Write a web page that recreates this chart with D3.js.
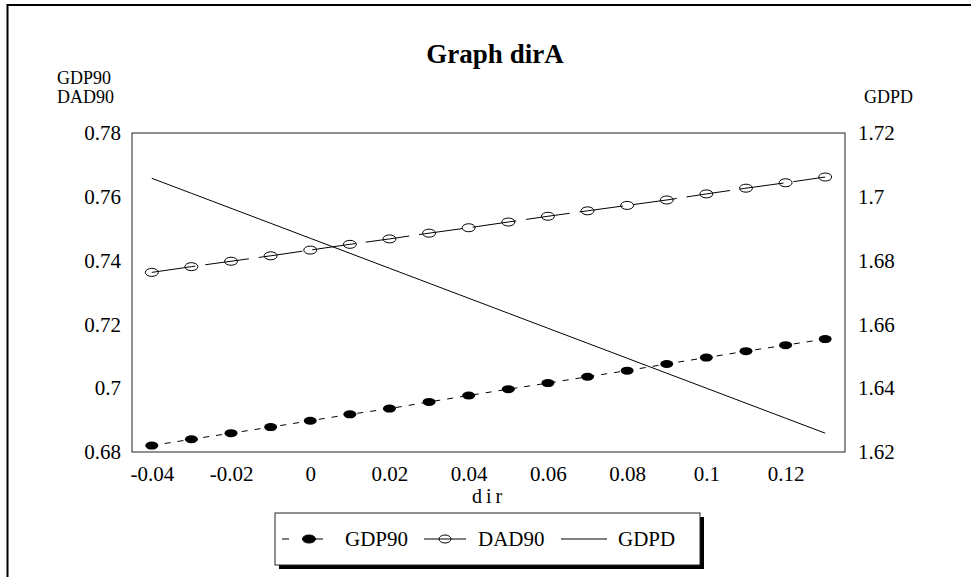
<!DOCTYPE html>
<html>
<head>
<meta charset="utf-8">
<script src="https://cdn.jsdelivr.net/npm/d3@7"></script>
<style>
  body { margin: 0; background: #fff; }
  svg { display: block; }
</style>
</head>
<body>
<div id="chart"></div>
<script>
// dir values (x axis)
const dirValues = [-0.04, -0.03, -0.02, -0.01, 0, 0.01, 0.02, 0.03, 0.04, 0.05, 0.06, 0.07, 0.08, 0.09, 0.10, 0.11, 0.12, 0.13];

// left axis series
const gdp90 = [0.6820, 0.6840, 0.6859, 0.6878, 0.6898, 0.6918, 0.6936, 0.6957, 0.6977, 0.6997, 0.7016, 0.7036, 0.7055, 0.7076, 0.7096, 0.7116, 0.7135, 0.7154];
const dad90 = [0.7363, 0.7381, 0.7398, 0.7415, 0.7433, 0.7451, 0.7468, 0.7486, 0.7503, 0.7521, 0.7539, 0.7556, 0.7573, 0.7590, 0.7609, 0.7627, 0.7644, 0.7662];

// right axis series
const gdpd = [1.7058, 1.7011, 1.6964, 1.6917, 1.6870, 1.6823, 1.6776, 1.6729, 1.6682, 1.6635, 1.6588, 1.6541, 1.6494, 1.6447, 1.6400, 1.6353, 1.6306, 1.6259];

// tick labels
const xTicks = [-0.04, -0.02, 0, 0.02, 0.04, 0.06, 0.08, 0.1, 0.12];
const leftTicks = [0.68, 0.7, 0.72, 0.74, 0.76, 0.78];
const rightTicks = [1.62, 1.64, 1.66, 1.68, 1.7, 1.72];

const width = 971;
const height = 577;
const font = '"Liberation Serif", "Times New Roman", serif';

const plot = { left: 132, right: 845, top: 133, bottom: 452 };

const svg = d3.select('#chart').append('svg')
  .attr('width', width)
  .attr('height', height)
  .style('font-family', font);

// outer frame (only left and top edges are visible)
svg.append('path')
  .attr('d', `M7.5,${height} V5 H${width}`)
  .attr('fill', 'none')
  .attr('stroke', '#000')
  .attr('stroke-width', 2);

const x = d3.scaleLinear().domain([-0.045, 0.135]).range([plot.left, plot.right]);
const yL = d3.scaleLinear().domain([0.68, 0.78]).range([plot.bottom, plot.top]);
const yR = d3.scaleLinear().domain([1.62, 1.72]).range([plot.bottom, plot.top]);

// axes (labels only, no tick marks)
const fmt = d => String(d);

const gx = svg.append('g')
  .attr('transform', `translate(0,${plot.bottom})`)
  .call(d3.axisBottom(x).tickValues(xTicks).tickFormat(fmt).tickSize(0).tickPadding(14));
const gl = svg.append('g')
  .attr('transform', `translate(${plot.left},0)`)
  .call(d3.axisLeft(yL).tickValues(leftTicks).tickFormat(fmt).tickSize(0).tickPadding(11));
const gr = svg.append('g')
  .attr('transform', `translate(${plot.right},0)`)
  .call(d3.axisRight(yR).tickValues(rightTicks).tickFormat(fmt).tickSize(0).tickPadding(13));

[gx, gl, gr].forEach(g => {
  g.select('.domain').remove();
  g.selectAll('text')
    .attr('font-family', font)
    .attr('font-size', 21)
    .attr('fill', '#000');
});

// plot frame
svg.append('rect')
  .attr('x', plot.left).attr('y', plot.top)
  .attr('width', plot.right - plot.left)
  .attr('height', plot.bottom - plot.top)
  .attr('fill', 'none')
  .attr('stroke', '#222')
  .attr('stroke-width', 1);

// title & axis titles
svg.append('text')
  .attr('x', 495).attr('y', 63)
  .attr('text-anchor', 'middle')
  .attr('font-size', 27).attr('font-weight', 'bold')
  .text('Graph dirA');

svg.append('text').attr('x', 57).attr('y', 84).attr('font-size', 18).text('GDP90');
svg.append('text').attr('x', 57).attr('y', 103).attr('font-size', 18).text('DAD90');
svg.append('text').attr('x', 864).attr('y', 103).attr('font-size', 18).text('GDPD');

svg.append('text')
  .attr('x', 489).attr('y', 503)
  .attr('text-anchor', 'middle')
  .attr('font-size', 20)
  .attr('letter-spacing', 4)
  .text('dir');

// lines
const lineL = d3.line().x((d, i) => x(dirValues[i])).y(d => yL(d));
const lineR = d3.line().x((d, i) => x(dirValues[i])).y(d => yR(d));

svg.append('path')
  .attr('d', lineL(gdp90))
  .attr('fill', 'none').attr('stroke', '#000').attr('stroke-width', 1)
  .attr('stroke-dasharray', '6,7');

svg.append('path')
  .attr('d', lineL(dad90))
  .attr('fill', 'none').attr('stroke', '#000').attr('stroke-width', 1)
  .attr('stroke-dasharray', '44,10');

svg.append('path')
  .attr('d', lineR(gdpd))
  .attr('fill', 'none').attr('stroke', '#000').attr('stroke-width', 1);

// markers
svg.append('g').selectAll('ellipse')
  .data(gdp90)
  .join('ellipse')
  .attr('cx', (d, i) => x(dirValues[i]))
  .attr('cy', d => yL(d))
  .attr('rx', 6.5).attr('ry', 4)
  .attr('fill', '#000');

svg.append('g').selectAll('ellipse')
  .data(dad90)
  .join('ellipse')
  .attr('cx', (d, i) => x(dirValues[i]))
  .attr('cy', d => yL(d))
  .attr('rx', 6.5).attr('ry', 4)
  .attr('fill', 'none')
  .attr('stroke', '#000').attr('stroke-width', 1);

// legend
const lg = { x: 275, y: 513, w: 425, h: 52 };
svg.append('rect')
  .attr('x', lg.x + 4).attr('y', lg.y + 4)
  .attr('width', lg.w).attr('height', lg.h)
  .attr('fill', '#000');
svg.append('rect')
  .attr('x', lg.x).attr('y', lg.y)
  .attr('width', lg.w).attr('height', lg.h)
  .attr('fill', '#fff').attr('stroke', '#222').attr('stroke-width', 1);

const ly = lg.y + lg.h / 2;
const legendItems = [
  { name: 'GDP90', x0: 282, x1: 323, mx: 309, dash: '7,13,21', marker: 'filled', tx: 345 },
  { name: 'DAD90', x0: 424, x1: 466, mx: 445, dash: null, marker: 'open', tx: 478 },
  { name: 'GDPD', x0: 561, x1: 607, mx: null, dash: null, marker: null, tx: 618 }
];
legendItems.forEach(it => {
  const g = svg.append('g');
  g.append('line')
    .attr('x1', it.x0).attr('x2', it.x1)
    .attr('y1', ly).attr('y2', ly)
    .attr('stroke', '#000').attr('stroke-width', 1)
    .attr('stroke-dasharray', it.dash);
  if (it.marker) {
    g.append('ellipse')
      .attr('cx', it.mx).attr('cy', ly)
      .attr('rx', it.marker === 'filled' ? 6.5 : 6).attr('ry', 4)
      .attr('fill', it.marker === 'filled' ? '#000' : 'none')
      .attr('stroke', '#000');
  }
  g.append('text')
    .attr('x', it.tx).attr('y', ly + 7)
    .attr('font-size', 21)
    .text(it.name);
});
</script>
</body>
</html>
